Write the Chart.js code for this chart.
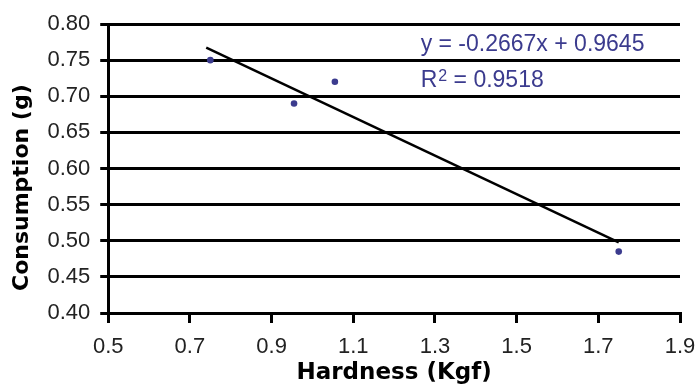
<!DOCTYPE html>
<html>
<head>
<meta charset="utf-8">
<script src="https://cdn.jsdelivr.net/npm/chart.js@4.4.1/dist/chart.umd.min.js"></script>
<style>
    body { margin: 0; background: #fff; }
    #wrap { width: 697px; height: 388px; }
</style>
</head>
<body>
<div id="wrap"><canvas id="hardnessChart"></canvas></div>
<script>
        // Data
        const hardness = [0.75, 0.955, 1.055, 1.75];
        const consumption = [0.75, 0.69, 0.72, 0.485];
        const xTicks = [0.5, 0.7, 0.9, 1.1, 1.3, 1.5, 1.7, 1.9];
        const yTicks = [0.40, 0.45, 0.50, 0.55, 0.60, 0.65, 0.70, 0.75, 0.80];
        const trendSlope = -0.2667;
        const trendIntercept = 0.9645;
        const trendRange = [0.74, 1.75];
        const equationText = ['y = -0.2667x + 0.9645', 'R', '2', ' = 0.9518'];

        const tickFont = 'Liberation Sans';
        const titleFont = 'DejaVu Sans';
        const markColor = '#3b3b8e';

        const points = hardness.map((h, i) => ({ x: h, y: consumption[i] }));
        const trendPoints = trendRange.map(x => ({ x: x, y: trendSlope * x + trendIntercept }));

        // Equation / R² text in the upper right
        const equationLabel = {
            id: 'equationLabel',
            afterDatasetsDraw(chart) {
                const c = chart.ctx;
                const xs = chart.scales.x, ys = chart.scales.y;
                const left = xs.getPixelForValue(1.265);
                const base1 = ys.getPixelForValue(0.762);
                const base2 = base1 + 36;
                c.save();
                c.fillStyle = markColor;
                c.textBaseline = 'alphabetic';
                c.textAlign = 'left';
                c.font = '23px "' + tickFont + '"';
                c.fillText(equationText[0], left, base1);
                c.fillText(equationText[1], left, base2);
                let w = c.measureText(equationText[1]).width;
                c.font = '16px "' + tickFont + '"';
                c.fillText(equationText[2], left + w + 1, base2 - 6);
                w += c.measureText(equationText[2]).width + 1;
                c.font = '23px "' + tickFont + '"';
                c.fillText(equationText[3], left + w, base2);
                c.restore();
            }
        };

        const ctx = document.getElementById('hardnessChart').getContext('2d');
        new Chart(ctx, {
            type: 'scatter',
            data: {
                datasets: [
                    {
                        label: 'Consumption',
                        data: points,
                        backgroundColor: markColor,
                        borderColor: markColor,
                        pointRadius: 3.3,
                        pointBorderWidth: 0
                    },
                    {
                        label: 'Linear trend',
                        type: 'line',
                        data: trendPoints,
                        borderColor: '#000',
                        borderWidth: 2.5,
                        pointRadius: 0,
                        fill: false
                    }
                ]
            },
            options: {
                responsive: true,
                maintainAspectRatio: false,
                animation: false,
                layout: {
                    padding: { left: 5, top: 24, right: 0, bottom: 0 }
                },
                plugins: {
                    legend: { display: false },
                    tooltip: { enabled: false }
                },
                scales: {
                    x: {
                        type: 'linear',
                        min: xTicks[0],
                        max: xTicks[xTicks.length - 1],
                        afterBuildTicks: axis => { axis.ticks = xTicks.map(v => ({ value: v })); },
                        // chart.js doubles tick padding when sizing; keep the box tight
                        afterFit: axis => { axis.height = 75; axis.paddingRight = 17; },
                        ticks: {
                            callback: v => v.toFixed(1),
                            color: '#222',
                            padding: 11,
                            font: { family: tickFont, size: 22 }
                        },
                        grid: {
                            drawOnChartArea: false,
                            color: '#000',
                            lineWidth: 3,
                            tickLength: 10
                        },
                        border: { color: '#000', width: 3 },
                        title: {
                            display: true,
                            text: 'Hardness (Kgf)',
                            color: '#000',
                            font: { family: titleFont, size: 23, weight: 'bold' },
                            padding: { top: 0, bottom: 1 }
                        }
                    },
                    y: {
                        min: yTicks[0],
                        max: yTicks[yTicks.length - 1],
                        afterBuildTicks: axis => { axis.ticks = yTicks.map(v => ({ value: v })); },
                        ticks: {
                            callback: v => v.toFixed(2),
                            color: '#222',
                            padding: 10,
                            font: { family: tickFont, size: 22 }
                        },
                        grid: {
                            color: '#000',
                            lineWidth: 3,
                            tickLength: 8
                        },
                        border: { color: '#000', width: 3 },
                        title: {
                            display: true,
                            // trailing spaces nudge the title down a bit, as in the original
                            text: 'Consumption (g)     ',
                            color: '#000',
                            font: { family: titleFont, size: 22, weight: 'bold' },
                            padding: { top: 4, bottom: 2 }
                        }
                    }
                }
            },
            plugins: [equationLabel]
        });
</script>
</body>
</html>
